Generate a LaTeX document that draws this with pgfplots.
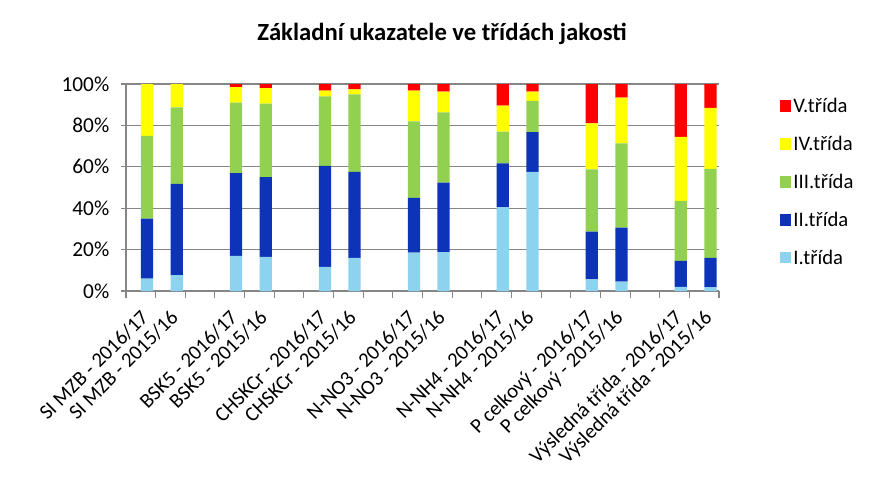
\documentclass[border=0pt]{standalone}
\usepackage{fontspec}
\setmainfont{Carlito}
\usepackage{pgfplots}
\usepackage{pgfplotstable}
\pgfplotsset{compat=1.18}
\definecolor{cI}{HTML}{8DD3EF}
\definecolor{cII}{HTML}{0D33B8}
\definecolor{cIII}{HTML}{92D050}
\definecolor{cIV}{HTML}{FFFF00}
\definecolor{cV}{HTML}{FF0000}
\definecolor{gridc}{HTML}{868686}
\pgfplotsset{sqlegend/.style={legend image code/.code={\fill[##1] (0pt,-4.2pt) rectangle (8.4pt,4.2pt);}}}

% share of each class (percent), bars at slot positions with a gap per group
\pgfplotstableread{
x  I    II   III  IV   V
0  6    29   40   25   0
1  7.7  44   37   11.3 0
3  17   40   34   7.5  1.5
4  16.5 38.5 35.5 7.5  2
6  11.7 48.7 33.6 2.8  3.2
7  16   41.6 37.4 2.4  2.6
9  18.5 26.5 37   14.8 3.2
10 18.8 33.5 34   10   3.7
12 40.4 21.3 15.3 12.5 10.5
13 57.5 19.2 15.1 4.5  3.7
15 5.6  23.1 30.1 22.2 19
16 4.5  26.1 40.7 22.1 6.6
18 2    12.6 29   30.9 25.5
19 1.8  14.2 43   29.5 11.5
}\data

\begin{document}
\begin{tikzpicture}
\path[use as bounding box] (-94.5pt,-148.5pt) rectangle (568.5pt,218.25pt);
\begin{axis}[
  scale only axis,
  width=444.75pt, height=155.25pt,
  ybar stacked, bar width=9.2pt,
  xmin=-0.71, xmax=19.29,
  ymin=0, ymax=100,
  ytick={0,20,40,60,80,100},
  yticklabel={\pgfmathprintnumber{\tick}\%},
  xtick={0,1,3,4,6,7,9,10,12,13,15,16,18,19},
  xticklabels={SI MZB - 2016/17, SI MZB - 2015/16,
    BSK5 - 2016/17, BSK5 - 2015/16,
    CHSKCr - 2016/17, CHSKCr - 2015/16,
    N-NO3 - 2016/17, N-NO3 - 2015/16,
    N-NH4 - 2016/17, N-NH4 - 2015/16,
    P celkový - 2016/17, P celkový - 2015/16,
    Výsledná třída - 2016/17, Výsledná třída - 2015/16},
  minor xtick={-0.71,0.29,...,19.3},
  major x tick style={draw=none},
  minor x tick style={draw=gridc, line width=0.8pt},
  ytick style={draw=gridc, line width=0.8pt},
  tick align=outside,
  major tick length=4pt, minor tick length=5pt,
  xticklabel style={rotate=45, anchor=north east, font=\fontsize{15.5}{18}\selectfont, xshift=-7pt, yshift=1pt},
  yticklabel style={font=\fontsize{16}{18}\selectfont, xshift=-5pt},
  /pgf/number format/assume math mode=true,
  axis x line*=bottom, axis y line*=left,
  axis line style={draw=gridc, line width=0.8pt, -},
  ymajorgrids, grid style={draw=gridc, line width=0.8pt},
  reverse legend,
  legend style={draw=none, fill=none, at={(1.095,0.96)}, anchor=north west,
    font=\fontsize{15.5}{18}\selectfont, row sep=12.2pt,
    /tikz/every even column/.append style={column sep=3pt}},
  legend cell align=left,
]
\addplot[fill=cI, draw=none, sqlegend] table[x=x, y=I]{\data};
\addplot[fill=cII, draw=none, sqlegend] table[x=x, y=II]{\data};
\addplot[fill=cIII, draw=none, sqlegend] table[x=x, y=III]{\data};
\addplot[fill=cIV, draw=none, sqlegend] table[x=x, y=IV]{\data};
\addplot[fill=cV, draw=none, sqlegend] table[x=x, y=V]{\data};
\legend{I.třída, II.třída, III.třída, IV.třída, V.třída}
\end{axis}
\node[anchor=base, font=\bfseries\fontsize{18.5}{22}\selectfont] at (237pt,188pt) {Základní ukazatele ve třídách jakosti};
\end{tikzpicture}
\end{document}
